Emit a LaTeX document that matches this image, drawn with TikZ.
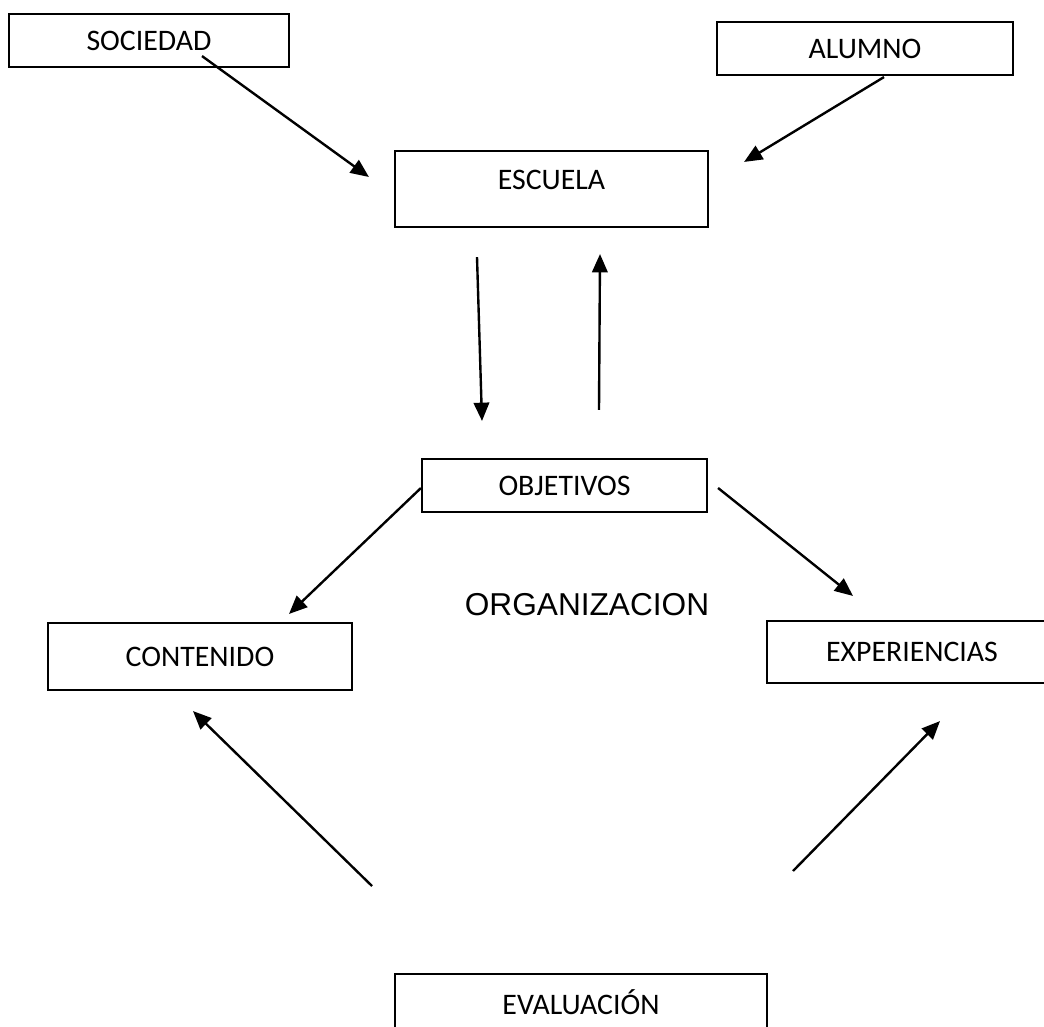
\documentclass[tikz,border=0pt]{standalone}
\usepackage{fontspec}
\setmainfont{Carlito}
\newfontfamily\arialfont{Liberation Sans}
\usetikzlibrary{arrows.meta}
\newcommand{\pix}{0.025cm}

\tikzset{
  box/.style={draw,line width=1.5pt,rectangle,inner sep=0pt,
    font=\fontsize{21.2}{25}\selectfont,text height=13.6pt,text depth=0pt},
  arr/.style={line width=1.7pt,-{Triangle[length=13pt,width=11pt]}}
}

\begin{document}
\begin{tikzpicture}[x=\pix,y=\pix]
\useasboundingbox (0,0) rectangle (1044,-1026);
\node[box,minimum width=280*\pix,minimum height=53*\pix] (soc) at (149,-40.5) {SOCIEDAD};
\node[box,minimum width=296*\pix,minimum height=53*\pix] (alu) at (865,-48.5) {ALUMNO};
\node[box,minimum width=313*\pix,minimum height=76*\pix,text depth=12.8pt] (esc) at (551.5,-189) {ESCUELA};
\node[box,minimum width=285*\pix,minimum height=53*\pix] (obj) at (564.5,-485.5) {OBJETIVOS};
\node[box,minimum width=304*\pix,minimum height=67*\pix] (cont) at (200,-656.5) {CONTENIDO};
\node[box,minimum width=290*\pix,minimum height=62*\pix] (exp) at (912,-652) {EXPERIENCIAS};
\node[box,minimum width=372*\pix,minimum height=62*\pix] (eval) at (581,-1005) {EVALUACIÓN};
\node[font=\arialfont\fontsize{22.5}{26}\selectfont] (org) at (587,-605) {ORGANIZACION};
\coordinate (ev1) at (372,-886);
\coordinate (ev2) at (793,-871);
\draw[arr] ([shift={(53,12)}]soc.south) -- ([shift={(-25,12)}]esc.west);
\draw[arr] ([shift={(19,-1)}]alu.south) -- ([shift={(35,-12)}]esc.north east);
\draw[arr] ([shift={(-74.5,-29)}]esc.south) -- ([shift={(-82.5,37)}]obj.north);
\draw[arr] ([shift={(34.5,48)}]obj.north) -- ([shift={(48.5,-26)}]esc.south);
\draw[arr] ([shift={(0,-2.5)}]obj.west) -- ([shift={(89,8)}]cont.north);
\draw[arr] ([shift={(10,-2.5)}]obj.east) -- ([shift={(-59,24)}]exp.north);
\draw[arr] (ev1) -- ([shift={(-7,-20)}]cont.south);
\draw[arr] (ev2) -- ([shift={(28,-37)}]exp.south);
\end{tikzpicture}
\end{document}
